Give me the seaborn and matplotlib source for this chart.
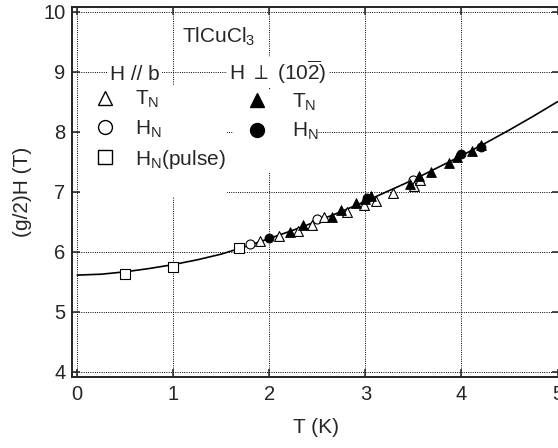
import matplotlib
matplotlib.use("Agg")
import matplotlib.pyplot as plt
from matplotlib.lines import Line2D
from matplotlib.patches import Rectangle
import seaborn as sns
import pandas as pd

# --- Data -------------------------------------------------------------
# H // b : Neel temperature (T_N), critical field (H_N) and pulsed-field H_N
hb_tn_T = [1.90, 2.10, 2.30, 2.44, 2.57, 2.81, 2.99, 3.11, 3.29, 3.51, 3.57]
hb_tn_H = [6.17, 6.26, 6.35, 6.45, 6.57, 6.66, 6.78, 6.85, 6.98, 7.09, 7.19]

hb_hn_T = [1.80, 2.50, 3.50]
hb_hn_H = [6.12, 6.54, 7.19]

hb_pulse_T = [0.50, 1.00, 1.68]
hb_pulse_H = [5.63, 5.745, 6.06]

# H perpendicular to (1 0 -2)
hp_tn_T = [2.21, 2.35, 2.65, 2.75, 2.90, 3.00, 3.06, 3.46, 3.56, 3.68,
           3.87, 3.95, 4.11, 4.20]
hp_tn_H = [6.33, 6.45, 6.57, 6.69, 6.81, 6.87, 6.92, 7.13, 7.26, 7.33,
           7.47, 7.58, 7.68, 7.77]

hp_hn_T = [2.00, 3.02, 3.99, 4.20]
hp_hn_H = [6.23, 6.89, 7.63, 7.74]

# Theoretical phase boundary
fit_T = [0.00, 0.25, 0.50, 0.75, 1.00, 1.25, 1.50, 1.75, 2.00, 2.25, 2.50,
         2.75, 3.00, 3.25, 3.50, 3.75, 4.00, 4.25, 4.50, 4.75, 5.00]
fit_H = [5.61, 5.625, 5.665, 5.72, 5.785, 5.865, 5.96, 6.085, 6.22, 6.36,
         6.51, 6.67, 6.84, 7.02, 7.20, 7.40, 7.60, 7.81, 8.03, 8.26, 8.50]

x_ticks = [0, 1, 2, 3, 4, 5]
y_ticks = [4, 5, 6, 7, 8, 9, 10]

# --- Style ------------------------------------------------------------
sns.set_theme(style="ticks")
plt.rcParams["font.family"] = ["Liberation Sans", "DejaVu Sans"]
plt.rcParams.update({
    "mathtext.fontset": "custom",
    "mathtext.rm": "Liberation Sans",
    "mathtext.it": "Liberation Sans:italic",
    "mathtext.bf": "Liberation Sans:bold",
    "axes.edgecolor": "#222222",
    "axes.linewidth": 1.4,
})

fig = plt.figure(figsize=(5.58, 4.48), dpi=100)
ax = fig.add_axes([0.1285, 0.1585, 0.875, 0.8259])
ax.set_axisbelow(True)

# boundary curve
curve = pd.DataFrame({"T": fit_T, "H": fit_H})
sns.lineplot(data=curve, x="T", y="H", ax=ax, color="black", lw=1.2,
             sort=False, zorder=2)

open_kw = dict(facecolor="white", edgecolor="black", linewidth=0.8, zorder=3)
fill_kw = dict(color="black", edgecolor="black", linewidth=0.6, zorder=3)

sns.scatterplot(x=hb_pulse_T, y=hb_pulse_H, marker="s", s=42, ax=ax, **open_kw)
sns.scatterplot(x=hb_hn_T, y=hb_hn_H, marker="o", s=42, ax=ax, **open_kw)
sns.scatterplot(x=hb_tn_T, y=hb_tn_H, marker="^", s=50, ax=ax, **open_kw)
sns.scatterplot(x=hp_tn_T, y=hp_tn_H, marker="^", s=50, ax=ax, **fill_kw)
sns.scatterplot(x=hp_hn_T, y=hp_hn_H, marker="o", s=42, ax=ax, **fill_kw)

# --- Axes -------------------------------------------------------------
ax.set_xlim(-0.058, 5.025)
ax.set_ylim(3.912, 10.078)
ax.set_xticks(x_ticks)
ax.set_yticks(y_ticks)
ax.grid(True, color="black", linestyle=(0, (1, 1.3)), linewidth=0.7)
ax.tick_params(direction="in", top=True, right=True, length=6, width=1.1,
               color="#222222", labelsize=14.5)
ax.tick_params(axis="x", pad=5.5)
ax.tick_params(axis="y", pad=4.5)
ax.set_xlabel("T (K)", fontsize=15, labelpad=10)
ax.set_ylabel("(g/2)H (T)", fontsize=15, labelpad=8)
for s in ax.spines.values():
    s.set_visible(True)

# white backing behind the legends
for x0, y0, w, h in [(0.017, 0.4865, 0.301, 0.3027),
                     (0.330, 0.554, 0.168, 0.2216)]:
    ax.add_patch(Rectangle((x0, y0), w, h, transform=ax.transAxes,
                           facecolor="white", edgecolor="none", zorder=1))

# --- Annotations and legends -----------------------------------------
ax.text(0.226, 0.9027, r"TlCuCl$_3$", transform=ax.transAxes, fontsize=15,
        ha="left", va="baseline")
box = dict(facecolor="white", edgecolor="none", pad=1.5)
ax.text(0.1296, 0.8027, "H // b", transform=ax.transAxes, fontsize=15,
        ha="center", va="baseline", bbox=box)
ax.text(0.4225, 0.8027, r"H $\perp$ (10$\overline{\mathrm{2}}$)",
        transform=ax.transAxes, fontsize=15, ha="center", va="baseline",
        bbox=box)

def handle(marker, filled):
    return Line2D([], [], ls="none", marker=marker, ms=10, mew=1.0,
                  mec="black", mfc="black" if filled else "white")

leg_kw = dict(frameon=False, fontsize=15, handlelength=1.0,
              labelspacing=0.38, borderpad=0, borderaxespad=0,
              loc="upper left")

leg1 = ax.legend([handle("^", False), handle("o", False), handle("s", False)],
                 [r"T$_\mathrm{N}$", r"H$_\mathrm{N}$", r"H$_\mathrm{N}$(pulse)"],
                 bbox_to_anchor=(0.047, 0.778), handletextpad=0.94, **leg_kw)
ax.add_artist(leg1)
ax.legend([handle("^", True), handle("o", True)],
          [r"T$_\mathrm{N}$", r"H$_\mathrm{N}$"],
          bbox_to_anchor=(0.3589, 0.771), handletextpad=1.15, **leg_kw)

fig.savefig("out.png", dpi=100)
